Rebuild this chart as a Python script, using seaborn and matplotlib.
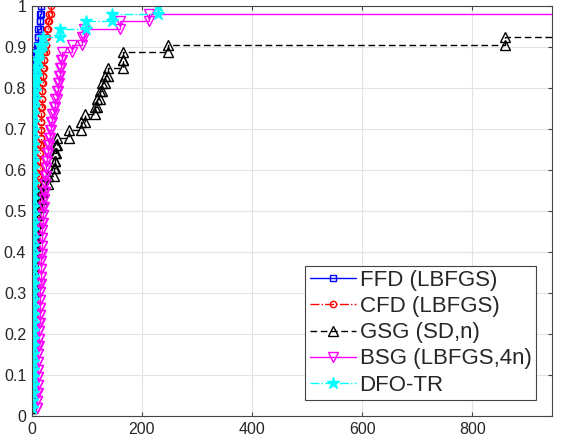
import numpy as np
import pandas as pd
import matplotlib
matplotlib.use("Agg")
import matplotlib.pyplot as plt
import seaborn as sns

# ---- data (sorted performance values per problem, 53 problems) ----
FAIL = 5000.0
ffd_lbfgs = [1, 1, 1, 1, 1, 1, 1, 1, 1, 1,
             1, 1, 1, 1, 1, 1, 1, 1, 2, 2,
             2, 2, 2, 2, 2, 2, 2, 2, 2, 2,
             2, 2, 2, 2, 2, 3, 3, 3, 3, 3,
             3, 4, 4, 5, 6, 7, 8, 9, 11, 12,
             14, 15, 17]
cfd_lbfgs = [2, 2, 2, 2, 3, 3, 3, 3, 3, 4,
             4, 4, 4, 5, 5, 5, 5, 6, 6, 6,
             7, 7, 7, 8, 8, 9, 9, 10, 10, 11,
             12, 13, 14, 15, 15, 16, 16, 16, 17, 17,
             18, 18, 19, 20, 21, 22, 23, 25, 26, 28,
             30, 32, 35]
gsg_sd_n = [1, 1, 1, 1, 1, 1, 1, 1, 1, 1,
            1, 1, 1, 1, 1, 1, 2, 2, 2, 3,
            3, 4, 5, 6, 8, 10, 12, 14, 17, 21,
            30, 40, 42, 43, 44, 45, 67, 89, 96, 115,
            118, 123, 127, 133, 139, 166, 166, 248, 860, FAIL,
            FAIL, FAIL, FAIL]
bsg_lbfgs_4n = [9, 10, 10, 11, 11, 11, 12, 12, 12, 13,
                13, 13, 14, 14, 14, 15, 15, 16, 16, 17,
                17, 18, 18, 19, 19, 20, 21, 22, 23, 24,
                24, 25, 26, 27, 29, 31, 33, 35, 37, 40,
                43, 45, 48, 50, 52, 53, 54, 73, 91, 94,
                160, 212, FAIL]
dfo_tr = [1, 1, 1, 2, 2, 2, 2, 2, 2, 2,
          2, 2, 2, 2, 2, 2, 2, 2, 2, 2,
          2, 2, 3, 3, 3, 3, 3, 3, 3, 3,
          3, 3, 3, 3, 3, 3, 3, 3, 3, 3,
          4, 5, 6, 7, 8, 9, 11, 14, 20, 51,
          99, 145, 230]

labels = ["FFD (LBFGS)", "CFD (LBFGS)", "GSG (SD,n)", "BSG (LBFGS,4n)", "DFO-TR"]
series = [ffd_lbfgs, cfd_lbfgs, gsg_sd_n, bsg_lbfgs_4n, dfo_tr]
x_ticks = [0, 200, 400, 600, 800]
y_ticks = [0, 0.1, 0.2, 0.3, 0.4, 0.5, 0.6, 0.7, 0.8, 0.9, 1.0]
y_tick_labels = ["0", "0.1", "0.2", "0.3", "0.4", "0.5", "0.6", "0.7", "0.8", "0.9", "1"]

styles = [
    dict(color="#0000FF", linestyle="-", marker="s", markersize=4.5, markerfacecolor="none"),
    dict(color="#FF0000", linestyle="-.", marker="o", markersize=4.5, markerfacecolor="none"),
    dict(color="#000000", linestyle=(0, (4.8, 2.6)), marker="^", markersize=7, markerfacecolor="none"),
    dict(color="#FF00FF", linestyle="-", marker="v", markersize=7, markerfacecolor="none"),
    dict(color="#00FFFF", linestyle="-.", marker="*", markersize=9, markerfacecolor="#00FFFF"),
]


def stairs(vals):
    x = np.sort(np.asarray(vals, dtype=float))
    y = np.arange(1, len(x) + 1) / len(x)
    xs = np.repeat(x, 2)[1:]
    ys = np.repeat(y, 2)[:-1]
    return pd.DataFrame({"x": xs, "y": ys})


sns.set_theme(style="white")
plt.rcParams["font.family"] = ["Liberation Sans", "DejaVu Sans"]

fig = plt.figure(figsize=(5.68, 4.40), dpi=100)
ax = fig.add_axes([31.8 / 568, 24 / 440, 520.2 / 568, 410 / 440])

for vals, lab, st in zip(series, labels, styles):
    df = stairs(vals)
    sns.lineplot(data=df, x="x", y="y", ax=ax, sort=False, estimator=None,
                 label=lab, linewidth=1.0, markeredgecolor=st["color"],
                 markeredgewidth=1.0, **st)

ax.set_xlim(0, 945)
ax.set_ylim(0, 1)
ax.set_xticks(x_ticks)
ax.set_xticklabels([str(t) for t in x_ticks])
ax.set_yticks(y_ticks)
ax.set_yticklabels(y_tick_labels)
ax.set_xlabel("")
ax.set_ylabel("")
ax.grid(True, color="#e3e3e3", linewidth=0.8)
ax.set_axisbelow(True)
for sp in ax.spines.values():
    sp.set_color("#444444")
    sp.set_linewidth(0.8)
ax.tick_params(direction="in", length=3, width=0.8, color="#444444",
               top=True, right=True, bottom=True, left=True,
               labelsize=11.5, labelcolor="#262626", pad=4)

handles, labs = ax.get_legend_handles_labels()
leg = ax.legend(handles, labs, loc="lower right", bbox_to_anchor=(0.969, 0.039),
                borderaxespad=0, fontsize=16, frameon=True, fancybox=False,
                edgecolor="#444444", framealpha=1, handlelength=2.1,
                handletextpad=0.15, borderpad=0.2, labelspacing=0.23)
leg.get_frame().set_linewidth(0.8)

fig.savefig("out.png", dpi=100)
